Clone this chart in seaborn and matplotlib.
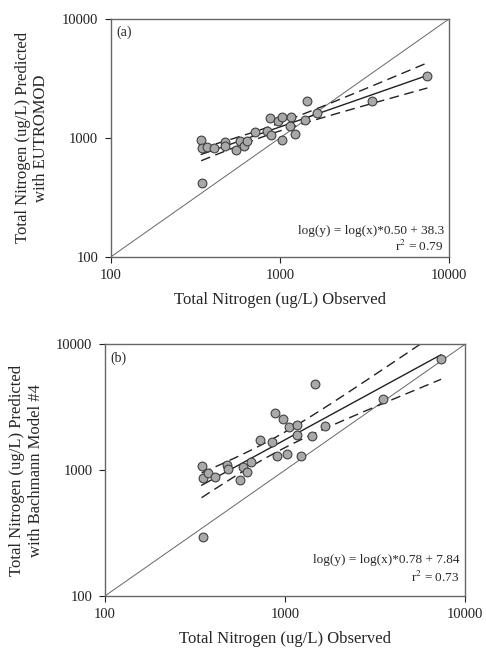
import numpy as np
import matplotlib
matplotlib.use("Agg")
import matplotlib.pyplot as plt
import seaborn as sns

# Panel (a): EUTROMOD
obs_a = [342, 347, 368, 406, 472, 476, 553, 584, 611, 640, 716, 840, 887,
         879, 975, 1030, 1026, 1159, 1153, 1224, 1402, 1441, 1660, 3490, 7447, 344]
pred_a = [955, 824, 840, 819, 925, 862, 798, 938, 851, 938, 1130, 1153, 1052,
          1463, 1380, 1492, 968, 1492, 1253, 1074, 1407, 2046, 1622, 2059, 3318, 419]

# Panel (b): Bachmann Model #4
obs_b = [344, 352, 374, 410, 476, 480, 562, 587, 615, 645, 726, 843, 884,
         899, 975, 1030, 1048, 1171, 1161, 1227, 1406, 1462, 1675, 3500, 7356, 349]
pred_b = [1086, 871, 949, 877, 1099, 1028, 830, 1059, 973, 1161, 1737, 1664, 2847,
          1288, 2567, 1352, 2203, 2270, 1891, 1296, 1880, 4868, 2258, 3656, 7645, 296]

panels = [
    dict(x=obs_a, y=pred_a, tag="(a)",
         ylabel="Total Nitrogen (ug/L) Predicted\nwith EUTROMOD",
         eq="log(y) = log(x)*0.50 + 38.3", r2="0.79", eq_y=(0.108, 0.045),
         rect=[0.228, 0.606, 0.696, 0.365]),
    dict(x=obs_b, y=pred_b, tag="(b)",
         ylabel="Total Nitrogen (ug/L) Predicted\nwith Bachmann Model #4",
         eq="log(y) = log(x)*0.78 + 7.84", r2="0.73", eq_y=(0.142, 0.075),
         rect=[0.216, 0.086, 0.741, 0.386]),
]

sns.set_style("ticks")
plt.rcParams["font.family"] = ["Liberation Serif", "DejaVu Serif"]
plt.rcParams["mathtext.fontset"] = "stix"

fig = plt.figure(figsize=(4.86, 6.52), dpi=100)

for p in panels:
    ax = fig.add_axes(p["rect"])
    x = np.array(p["x"], dtype=float)
    y = np.array(p["y"], dtype=float)
    lx, ly = np.log10(x), np.log10(y)

    # regression in log space with 95% confidence band of the mean
    slope, icpt = np.polyfit(lx, ly, 1)
    n = len(lx)
    resid = ly - (slope * lx + icpt)
    s = np.sqrt(np.sum(resid ** 2) / (n - 2))
    sxx = np.sum((lx - lx.mean()) ** 2)
    gx = np.linspace(lx.min(), lx.max(), 100)
    gy = slope * gx + icpt
    half = 2.064 * s * np.sqrt(1.0 / n + (gx - lx.mean()) ** 2 / sxx)

    ax.plot([100, 10000], [100, 10000], color="#666666", lw=0.7, zorder=1)
    ax.plot(10 ** gx, 10 ** gy, color="#222222", lw=1.0, zorder=2)
    ax.plot(10 ** gx, 10 ** (gy + half), color="#222222", lw=1.0, ls=(0, (7, 4)), zorder=2)
    ax.plot(10 ** gx, 10 ** (gy - half), color="#222222", lw=1.0, ls=(0, (7, 4)), zorder=2)

    sns.scatterplot(x=x, y=y, ax=ax, s=40, color="#a9a9a9", edgecolor="#404040",
                    linewidth=0.8, zorder=3, legend=False)

    ax.set_xscale("log")
    ax.set_yscale("log")
    ax.set_xlim(100, 10000)
    ax.set_ylim(100, 10000)
    ax.set_xticks([100, 1000, 10000])
    ax.set_yticks([100, 1000, 10000])
    ax.set_xticklabels(["100", "1000", "10000"])
    ax.set_yticklabels(["100", "1000", "10000"])
    ax.minorticks_off()
    ax.tick_params(axis="both", direction="out", length=4, width=0.8,
                   labelsize=10.5, colors="#222222", pad=5)
    for sp in ax.spines.values():
        sp.set_color("#666666")
        sp.set_linewidth(1.0)

    ax.set_xlabel("Total Nitrogen (ug/L) Observed", fontsize=12, labelpad=7)
    ax.set_ylabel(p["ylabel"], fontsize=12, labelpad=9)
    ax.text(0.015, 0.972, p["tag"], transform=ax.transAxes, fontsize=10,
            ha="left", va="top")
    ax.text(0.985, p["eq_y"][0], p["eq"], transform=ax.transAxes, fontsize=9.5,
            ha="right", va="center")
    ax.text(0.985, p["eq_y"][1], "r$^2$ = " + p["r2"], transform=ax.transAxes,
            fontsize=9.5, ha="right", va="center")

fig.savefig("out.png", dpi=100)
